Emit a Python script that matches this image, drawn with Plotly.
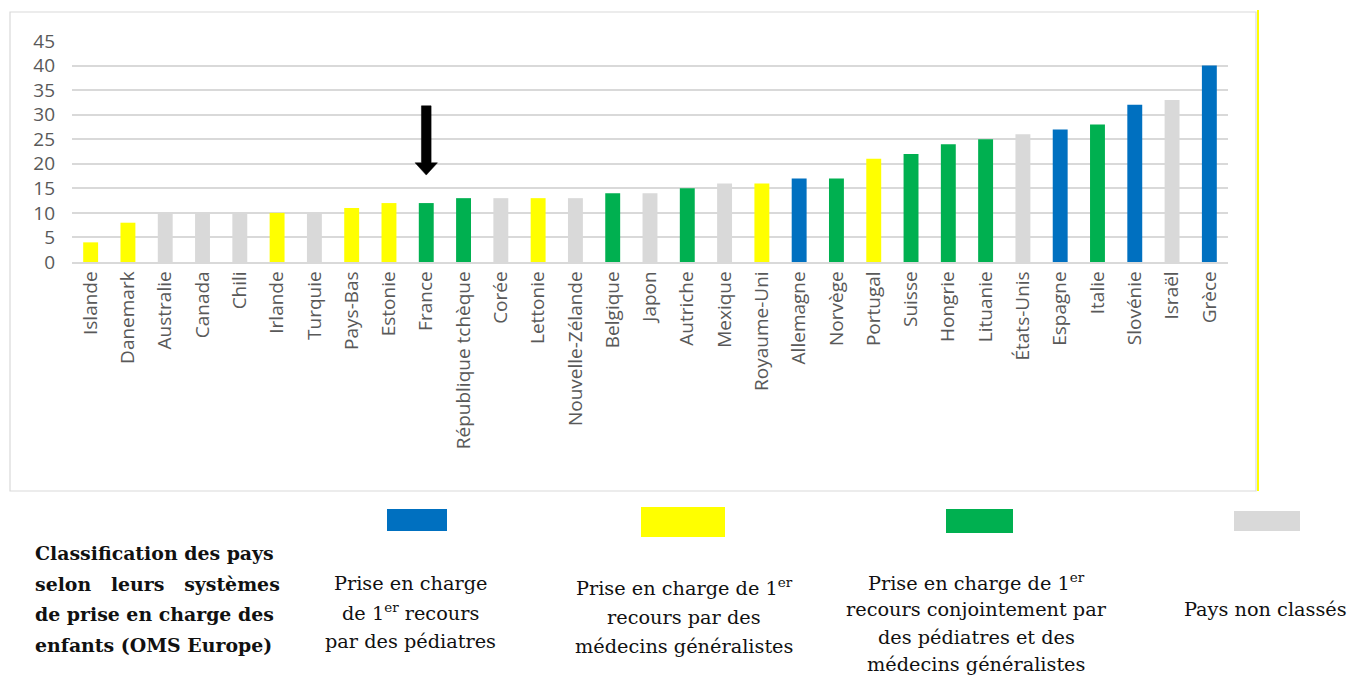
import plotly.graph_objects as go

# ---------------- data ----------------
countries = ["Islande", "Danemark", "Australie", "Canada", "Chili", "Irlande", "Turquie",
             "Pays-Bas", "Estonie", "France", "République tchèque", "Corée", "Lettonie",
             "Nouvelle-Zélande", "Belgique", "Japon", "Autriche", "Mexique", "Royaume-Uni",
             "Allemagne", "Norvège", "Portugal", "Suisse", "Hongrie", "Lituanie",
             "États-Unis", "Espagne", "Italie", "Slovénie", "Israël", "Grèce"]
values = [4, 8, 10, 10, 10, 10, 10, 11, 12, 12, 13, 13, 13, 13, 14, 14, 15, 16, 16,
          17, 17, 21, 22, 24, 25, 26, 27, 28, 32, 33, 40]
# group: P = pédiatres, G = généralistes, M = mixte, N = non classé
groups = ["G", "G", "N", "N", "N", "G", "N", "G", "G", "M", "M", "N", "G", "N", "M",
          "N", "M", "N", "G", "P", "M", "G", "M", "M", "M", "N", "P", "M", "P", "N", "P"]
yticks = [0, 5, 10, 15, 20, 25, 30, 35, 40, 45]
highlight = "France"

group_colors = {"P": "#0070C0", "G": "#FFFF00", "M": "#00B050", "N": "#D9D9D9"}
legend_order = ["P", "G", "M", "N"]
legend_texts = {
    "P": ["Prise en charge", "de 1<sup>er</sup> recours", "par des pédiatres"],
    "G": ["Prise en charge de 1<sup>er</sup>", "recours par des", "médecins généralistes"],
    "M": ["Prise en charge de 1<sup>er</sup>", "recours conjointement par",
          "des pédiatres et des", "médecins généralistes"],
    "N": ["Pays non classés"],
}
title_lines = ["Classification des pays",
               "selon\u00a0\u00a0 leurs\u00a0\u00a0 systèmes",
               "de prise en charge des",
               "enfants (OMS Europe)"]

# ---------------- layout geometry (reference pixels) ----------------
OFF = 8  # page body margin
W, H = 1355 - OFF, 677 - OFF
PL, PR, PT, PB = 72, 1228, 41, 262


def fx(px):
    return (px - PL) / (PR - PL)


def fy(py):
    return (PB - py) / (PB - PT)


fig = go.Figure()
fig.add_trace(go.Bar(
    x=countries, y=values,
    marker=dict(color=[group_colors[g] for g in groups], line=dict(width=0)),
    hoverinfo="x+y", showlegend=False,
))

shapes = []
annotations = []

# outer chart border
shapes.append(dict(type="rect", xref="paper", yref="paper",
                   x0=fx(10), x1=fx(1256), y0=fy(491), y1=fy(12),
                   line=dict(color="#D9D9D9", width=1.2), fillcolor="rgba(0,0,0,0)",
                   layer="below"))
shapes.append(dict(type="line", xref="paper", yref="paper",
                   x0=fx(1258), x1=fx(1258), y0=fy(491), y1=fy(10),
                   line=dict(color="#FFFF00", width=2)))

# arrow above France (relative to its bar)
i = countries.index(highlight)
v = values[i]
tip = v + 5.7
head_base = v + 8.2
top = v + 19.8
sw, hw = 0.13, 0.3
path = (f"M {i - sw} {top} L {i + sw} {top} L {i + sw} {head_base} L {i + hw} {head_base} "
        f"L {i} {tip} L {i - hw} {head_base} L {i - sw} {head_base} Z")
shapes.append(dict(type="path", xref="x", yref="y", path=path,
                   fillcolor="black", line=dict(color="black", width=0.5)))

# legend boxes
box_px = {"P": (387, 447, 509, 531), "G": (641, 725, 507, 537),
          "M": (946, 1013, 509, 533), "N": (1234, 1300, 511, 531)}
for g in legend_order:
    x0, x1, y0, y1 = box_px[g]
    shapes.append(dict(type="rect", xref="paper", yref="paper",
                       x0=fx(x0), x1=fx(x1), y0=fy(y1), y1=fy(y0),
                       fillcolor=group_colors[g], line=dict(width=0)))

serif = "DejaVu Serif"
text_pos = {"P": (410, [583, 612, 641]), "G": (684, [587, 617, 646]),
            "M": (976, [582, 609, 637, 664]), "N": (1265, [610])}
for g in legend_order:
    cx, ys = text_pos[g]
    for line, py in zip(legend_texts[g], ys):
        annotations.append(dict(xref="paper", yref="paper", x=fx(cx), y=fy(py),
                                text=line, showarrow=False, xanchor="center",
                                yanchor="middle",
                                font=dict(family=serif, size=19.3, color="#111111")))

title_y = [553, 584, 614, 645]
for line, py in zip(title_lines, title_y):
    annotations.append(dict(xref="paper", yref="paper", x=fx(33), y=fy(py),
                            text=f"<b>{line}</b>", showarrow=False, xanchor="left",
                            yanchor="middle",
                            font=dict(family=serif, size=18.9, color="#111111")))

fig.update_layout(
    width=W, height=H,
    margin=dict(l=PL - OFF, r=W - (PR - OFF), t=PT - OFF, b=H - (PB - OFF),
                autoexpand=False),
    paper_bgcolor="white", plot_bgcolor="white",
    bargap=0.6,
    shapes=shapes, annotations=annotations,
    font=dict(family="Open Sans", color="#595959"),
    xaxis=dict(type="category", tickangle=-90, showgrid=False, showline=True,
               linecolor="#D9D9D9", linewidth=1.5, ticks="",
               tickfont=dict(family="Open Sans", size=19, color="#595959")),
    yaxis=dict(range=[0, 45], tickvals=yticks, showgrid=True, gridcolor="#D9D9D9",
               gridwidth=1.5, zeroline=False, showline=False, ticks="",
               ticklabelstandoff=16,
               tickfont=dict(family="Open Sans", size=19, color="#595959")),
)

fig.write_html("out.html")
